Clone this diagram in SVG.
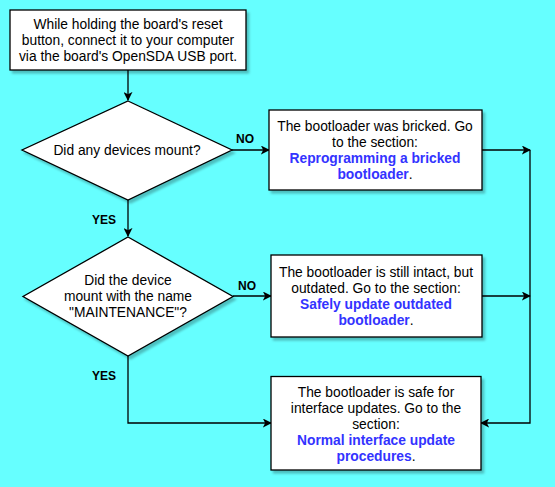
<svg xmlns="http://www.w3.org/2000/svg" width="555" height="487" viewBox="0 0 555 487">
<style>
.box{fill:#fff;stroke:#000;stroke-width:1.3;filter:url(#sh)}
.t{font-family:"Liberation Sans",Arial,sans-serif;font-size:13.8px;fill:#000;text-anchor:middle}
.l{font-weight:bold;fill:#3333ff}
.lab{font-family:"Liberation Sans",Arial,sans-serif;font-size:12px;font-weight:bold;fill:#000;text-anchor:middle}
.c{fill:none;stroke:#000;stroke-width:1.3;marker-end:url(#ah)}
</style>
<defs>
<filter id="sh" x="-10%" y="-10%" width="130%" height="130%">
<feDropShadow dx="2.5" dy="3" stdDeviation="1.2" flood-color="#000" flood-opacity="0.25"/>
</filter>
<marker id="ah" viewBox="0 0 10 10" refX="9" refY="5" markerWidth="9" markerHeight="9" markerUnits="userSpaceOnUse" orient="auto">
<path d="M0,0 L10,5 L0,10 L2.5,5 Z" fill="#000"/>
</marker>
</defs>
<rect width="555" height="487" fill="#66ffff"/>
<g id="connectors">
<path class="c" d="M128,70 V100"/>
<path class="c" d="M232,150 H269"/>
<path class="c" d="M128,200 V236"/>
<path class="c" d="M233,296 H271"/>
<path class="c" d="M128,356 V423 H271"/>
<path class="c" d="M482,150 H530"/>
<path class="c" d="M482,296 H530"/>
<path class="c" d="M530,150 V423 H481"/>
<text class="lab" x="245" y="143">NO</text>
<text class="lab" x="104" y="224">YES</text>
<text class="lab" x="247" y="290">NO</text>
<text class="lab" x="104" y="380">YES</text>
</g>
<g id="start">
<rect class="box" x="10" y="10" width="236" height="60"/>
<text class="t" x="128" y="29">While holding the board's reset</text>
<text class="t" x="128" y="45">button, connect it to your computer</text>
<text class="t" x="128" y="61">via the board's OpenSDA USB port.</text>
</g>
<g id="q1">
<polygon class="box" points="128,101 232,150 128,200 22,150"/>
<text class="t" x="127" y="155">Did any devices mount?</text>
</g>
<g id="q2">
<polygon class="box" points="128,237 233,296.5 128,356 23,296.5"/>
<text class="t" x="128" y="285">Did the device</text>
<text class="t" x="128" y="301">mount with the name</text>
<text class="t" x="128" y="317">"MAINTENANCE"?</text>
</g>
<g id="bricked">
<rect class="box" x="269" y="110" width="213" height="80"/>
<text class="t" x="375" y="131">The bootloader was bricked. Go</text>
<text class="t" x="375" y="147">to the section:</text>
<text class="t" x="375" y="163"><tspan class="l">Reprogramming a bricked</tspan></text>
<text class="t" x="375" y="179"><tspan class="l">bootloader</tspan>.</text>
</g>
<g id="outdated">
<rect class="box" x="271" y="255" width="211" height="82"/>
<text class="t" x="376" y="277">The bootloader is still intact, but</text>
<text class="t" x="376" y="293">outdated. Go to the section:</text>
<text class="t" x="376" y="309"><tspan class="l">Safely update outdated</tspan></text>
<text class="t" x="376" y="325"><tspan class="l">bootloader</tspan>.</text>
</g>
<g id="normal">
<rect class="box" x="271" y="376.5" width="210" height="93.5"/>
<text class="t" x="376" y="397">The bootloader is safe for</text>
<text class="t" x="376" y="413">interface updates. Go to the</text>
<text class="t" x="376" y="429">section:</text>
<text class="t" x="376" y="445"><tspan class="l">Normal interface update</tspan></text>
<text class="t" x="376" y="461"><tspan class="l">procedures</tspan>.</text>
</g>
</svg>
